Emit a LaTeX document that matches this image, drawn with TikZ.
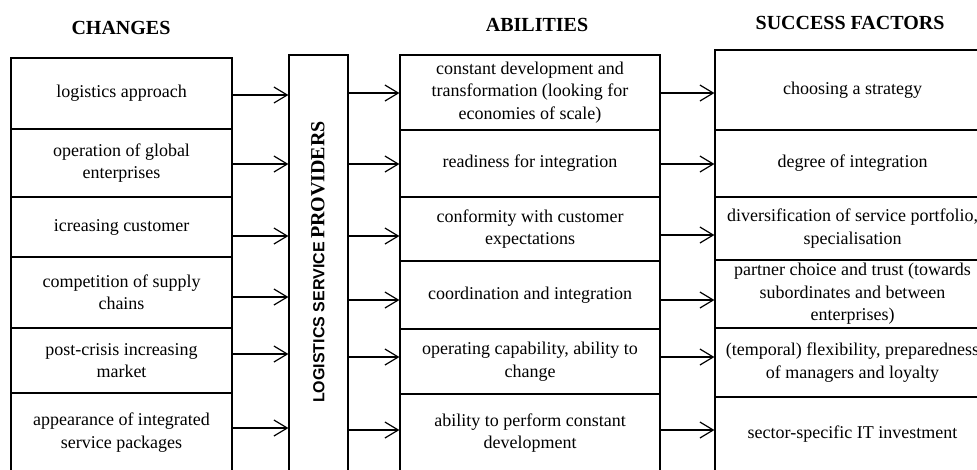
\documentclass[tikz,border=0pt]{standalone}
\usepackage{fontspec}
\setmainfont{Liberation Serif}
\newfontfamily\lsans{Liberation Sans}
\usepackage{tikz}
\usetikzlibrary{arrows.meta,positioning}

\tikzset{
  cell/.style = {draw, line width=0.9pt, inner sep=0pt, align=center,
                 font=\fontsize{13.5}{16.8}\selectfont},
  head/.style = {font=\fontsize{15}{17}\selectfont\bfseries},
  arr/.style  = {-{Straight Barb[length=10pt,width=12pt]}, line width=0.9pt},
}

\begin{document}
\begin{tikzpicture}[x=0.75pt, y=-0.75pt]
            \useasboundingbox (0,0) rectangle (977,469);
            \clip (0,0) rectangle (977,469);
            % headings
            \node[head] (hChg) at (121,28) {CHANGES};
            \node[head] (hAbl) at (537,25) {ABILITIES};
            \node[head] (hSuc) at (850,23) {SUCCESS FACTORS};
            % changes
            \foreach \i/\t/\b/\txt in {
                1/58/129/{logistics approach},
                2/129/197/{operation of global\\enterprises},
                3/197/257/{icreasing customer},
                4/257/328/{competition of supply\\chains},
                5/328/393/{post-crisis increasing\\market},
                6/393/472/{appearance of integrated\\service packages}}
              {\pgfmathsetmacro\hh{(\b-\t)*0.75}
               \node[cell, minimum width=165.75pt, minimum height=\hh pt]
                 (chg\i) at (121.5,{(\t+\b)/2}) {\txt};}
            % logistics service providers
            \node[draw, line width=0.9pt, minimum width=44.25pt, minimum height=312.75pt]
              (prov) at (318.5,263.5) {};
            \node[rotate=90] (provTxt) at (318,262)
              {{\lsans\fontsize{12}{14}\selectfont\bfseries LOGISTICS SERVICE} {\fontsize{15}{17}\selectfont\bfseries PROVIDERS}};
            % abilities
            \foreach \i/\t/\b/\txt in {
                1/55/130/{constant development and\\transformation (looking for\\economies of scale)},
                2/130/197/{readiness for integration},
                3/197/261/{conformity with customer\\expectations},
                4/261/329/{coordination and integration},
                5/329/394/{operating capability, ability to\\change},
                6/394/472/{ability to perform constant\\development}}
              {\pgfmathsetmacro\hh{(\b-\t)*0.75}
               \node[cell, minimum width=195pt, minimum height=\hh pt]
                 (abl\i) at (530,{(\t+\b)/2}) {\txt};}
            % success factors
            \foreach \i/\t/\b/\txt in {
                1/50/130/{choosing a strategy},
                2/130/197/{degree of integration},
                3/197/260/{diversification of service portfolio,\\specialisation},
                4/260/328/{partner choice and trust (towards\\subordinates and between\\enterprises)},
                5/328/397/{(temporal) flexibility, preparedness\\of managers and loyalty},
                6/397/472/{sector-specific IT investment}}
              {\pgfmathsetmacro\hh{(\b-\t)*0.75}
               \node[cell, minimum width=206.25pt, minimum height=\hh pt]
                 (suc\i) at (852.5,{(\t+\b)/2}) {\txt};}
            % arrows
            \foreach \i/\y in {1/95,2/164,3/236,4/297,5/354,6/428}
              \draw[arr] (chg\i.east |- 0,\y) -- (prov.west |- 0,\y);
            \foreach \i/\y in {1/93,2/164,3/236,4/300,5/357,6/430}
              \draw[arr] (prov.east |- 0,\y) -- (abl\i.west |- 0,\y);
            \foreach \i/\y in {1/93,2/164,3/235,4/300,5/357,6/430}
              \draw[arr] (abl\i.east |- 0,\y) -- (suc\i.west |- 0,\y);
        \end{tikzpicture}
\end{document}
